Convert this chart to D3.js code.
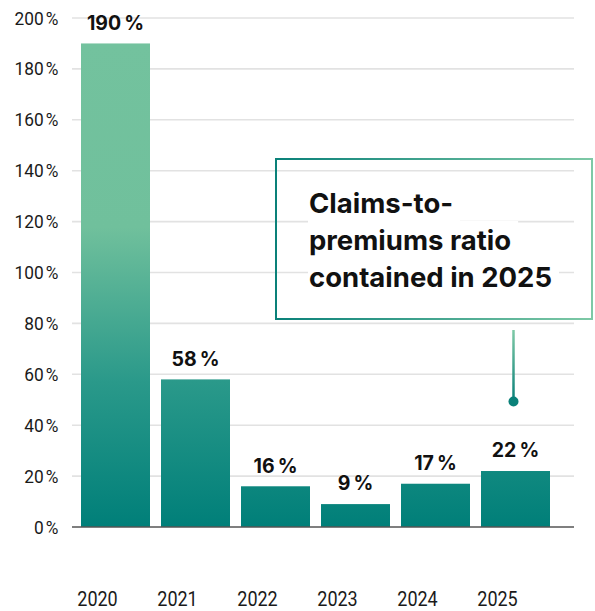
<!DOCTYPE html>
<html>
<head>
<meta charset="utf-8">
<script src="https://cdn.jsdelivr.net/npm/d3@7"></script>
<style>
  html, body { margin: 0; padding: 0; background: #fff; }
  svg { display: block; }
</style>
</head>
<body>
<svg id="chart" width="595" height="611"></svg>
<script>
// Claims-to-premiums ratio by year (%)
const years = ["2020", "2021", "2022", "2023", "2024", "2025"];
const ratios = [190, 58, 16, 9, 17, 22];
const yTicks = [0, 20, 40, 60, 80, 100, 120, 140, 160, 180, 200];
const noteLines = ["Claims-to-", "premiums ratio", "contained in 2025"];

const W = 595, H = 611;
const svg = d3.select("#chart");
const defs = svg.append("defs");

const plotLeft = 72, plotRight = 574;
const y = d3.scaleLinear().domain([0, 200]).range([527, 18]);
const x = d3.scaleBand().domain(years).range([75.5, 555.5])
  .paddingInner(11 / 80).paddingOuter(11 / 160);

const pct = v => v + "\u202F%";

// bar fill: light green at the top of the scale fading into teal at the baseline
const barGrad = defs.append("linearGradient")
  .attr("id", "barGrad").attr("gradientUnits", "userSpaceOnUse")
  .attr("x1", 0).attr("x2", 0).attr("y1", y(190)).attr("y2", y(0));
barGrad.append("stop").attr("offset", 0).attr("stop-color", "#73c29e");
barGrad.append("stop").attr("offset", 0.38).attr("stop-color", "#70c09c");
barGrad.append("stop").attr("offset", 0.7).attr("stop-color", "#2a998a");
barGrad.append("stop").attr("offset", 1).attr("stop-color", "#007f79");

const boxGrad = defs.append("linearGradient")
  .attr("id", "boxGrad").attr("x1", 0).attr("x2", 1).attr("y1", 0).attr("y2", 0);
boxGrad.append("stop").attr("offset", 0).attr("stop-color", "#0a8179");
boxGrad.append("stop").attr("offset", 1).attr("stop-color", "#7ec9a6");

// gridlines
svg.append("g").selectAll("line").data(yTicks.filter(d => d > 0)).join("line")
  .attr("x1", plotLeft).attr("x2", plotRight)
  .attr("y1", d => y(d)).attr("y2", d => y(d))
  .attr("stroke", "#e2e2e2").attr("stroke-width", 1.6);

// y tick labels (slightly condensed)
svg.append("g").selectAll("text").data(yTicks).join("text")
  .attr("transform", d => `translate(58.5,${y(d) + 6.5}) scale(0.96,1)`)
  .attr("text-anchor", "end")
  .attr("font-family", "Roboto, sans-serif").attr("font-size", 18)
  .attr("fill", "#1a1a1a")
  .text(d => pct(d));

// annotation box
const box = { x: 276, y: 159, w: 316, h: 160 };
svg.append("rect")
  .attr("x", box.x).attr("y", box.y).attr("width", box.w).attr("height", box.h)
  .attr("fill", "none").attr("stroke", "url(#boxGrad)").attr("stroke-width", 2);

// note text, each line on its own white backing
const noteG = svg.append("g");
const noteBaselines = [213, 250, 287];
noteLines.forEach((t, i) => {
  const txt = noteG.append("text")
    .attr("x", 309).attr("y", noteBaselines[i])
    .attr("font-family", "Inter, sans-serif").attr("font-weight", 700)
    .attr("font-size", 27.5).attr("fill", "#111")
    .text(t);
  const bb = txt.node().getBBox();
  noteG.insert("rect", "text")
    .attr("x", 308).attr("y", bb.y - 2)
    .attr("width", bb.width + 8).attr("height", bb.height + 4)
    .attr("fill", "#fff");
});

// bars
svg.append("g").selectAll("rect").data(years).join("rect")
  .attr("x", d => x(d)).attr("width", x.bandwidth())
  .attr("y", (d, i) => y(ratios[i]))
  .attr("height", (d, i) => y(0) - y(ratios[i]))
  .attr("fill", "url(#barGrad)");

// baseline
svg.append("line")
  .attr("x1", plotLeft).attr("x2", plotRight)
  .attr("y1", y(0)).attr("y2", y(0))
  .attr("stroke", "#555").attr("stroke-width", 1.5);

// value labels
svg.append("g").selectAll("text").data(years).join("text")
  .attr("x", d => x(d) + x.bandwidth() / 2)
  .attr("y", (d, i) => y(ratios[i]) - 13.7)
  .attr("text-anchor", "middle")
  .attr("font-family", "Inter, sans-serif").attr("font-weight", 700)
  .attr("font-size", 19.5).attr("fill", "#111")
  .text((d, i) => pct(ratios[i]));

// year labels
svg.append("g").selectAll("text").data(years).join("text")
  .attr("transform", d => `translate(${x(d) + x.bandwidth() / 2 - 18},606) scale(0.9,1)`)
  .attr("text-anchor", "middle")
  .attr("font-family", "Roboto, sans-serif").attr("font-size", 20)
  .attr("fill", "#1a1a1a")
  .text(d => d);

// connector from the note to the 2025 bar
const cx = x("2025") + x.bandwidth() / 2 - 2;
const lineGrad = defs.append("linearGradient")
  .attr("id", "lineGrad").attr("gradientUnits", "userSpaceOnUse")
  .attr("x1", 0).attr("x2", 0).attr("y1", 330).attr("y2", 400);
lineGrad.append("stop").attr("offset", 0).attr("stop-color", "#7ec9a6");
lineGrad.append("stop").attr("offset", 1).attr("stop-color", "#0a8179");
svg.append("line")
  .attr("x1", cx).attr("x2", cx).attr("y1", 330).attr("y2", 401)
  .attr("stroke", "url(#lineGrad)").attr("stroke-width", 2.5);
svg.append("circle")
  .attr("cx", cx).attr("cy", 401.5).attr("r", 5)
  .attr("fill", "#0a8179");
</script>
</body>
</html>
